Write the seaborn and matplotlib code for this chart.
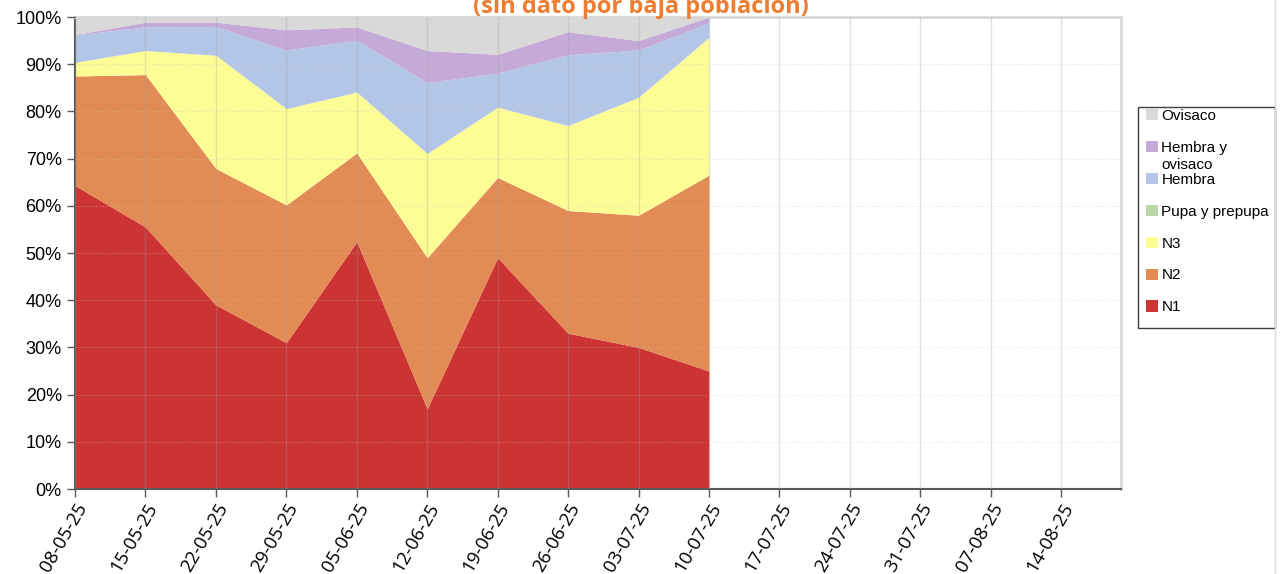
import matplotlib
matplotlib.use("Agg")
import matplotlib.pyplot as plt
import seaborn as sns
from matplotlib.patches import Patch, Rectangle
from matplotlib.lines import Line2D
from matplotlib.ticker import FuncFormatter

# fechas de muestreo (eje x) y porcentajes por estadio
fechas = ["08-05-25", "15-05-25", "22-05-25", "29-05-25", "05-06-25", "12-06-25",
          "19-06-25", "26-06-25", "03-07-25", "10-07-25", "17-07-25", "24-07-25",
          "31-07-25", "07-08-25", "14-08-25"]
n1 = [64.3, 55.5, 39.0, 31.0, 52.4, 17.0, 49.0, 33.0, 30.0, 25.0]
n2 = [23.2, 32.3, 28.9, 29.2, 18.8, 32.0, 17.0, 26.0, 28.0, 41.5]
n3 = [2.9, 5.1, 24.0, 20.4, 12.9, 22.1, 14.9, 18.0, 25.0, 29.2]
pupa = [0, 0, 0, 0, 0, 0, 0, 0, 0, 0]
hembra = [5.8, 5.0, 6.1, 12.4, 11.0, 15.0, 7.2, 15.0, 10.0, 3.1]
hembra_ovisaco = [0.1, 1.0, 0.9, 4.3, 2.8, 6.8, 4.0, 4.9, 2.0, 1.2]
ovisaco = [3.7, 1.1, 1.1, 2.7, 2.1, 7.1, 7.9, 3.1, 5.0, 0.0]

series = [n1, n2, n3, pupa, hembra, hembra_ovisaco, ovisaco]
nombres = ["N1", "N2", "N3", "Pupa y prepupa", "Hembra", "Hembra y", "Ovisaco"]
colores = ["#CC3333", "#E38B54", "#FDFD96", "#B8D8A8", "#B3C6E7", "#C5AAD8", "#D9D9D9"]

sns.set_style("white")
plt.rcParams["font.family"] = ["Liberation Sans", "DejaVu Sans"]

fig = plt.figure(figsize=(12.81, 5.74), dpi=100)
ax = fig.add_axes([75 / 1281, 85 / 574, (1121 - 75) / 1281, (489 - 17) / 574])

x = list(range(len(n1)))
ax.stackplot(x, *series, colors=colores, linewidth=0)

ax.set_xlim(0, 14.85)
ax.set_ylim(0, 100)
ax.set_xticks(range(len(fechas)))
ax.set_xticklabels(fechas, rotation=60, ha="right", rotation_mode="anchor",
                   fontsize=13.5, family="Open Sans", color="black")
ax.set_yticks(range(0, 101, 10))
ax.yaxis.set_major_formatter(FuncFormatter(lambda v, p: f"{int(v)}%"))
ax.tick_params(axis="y", labelsize=13, labelcolor="black", length=6, width=1,
               color="#595959", direction="out", left=True)
ax.tick_params(axis="x", length=6, width=1, color="#595959", direction="out", bottom=True, pad=2)

# rejilla por encima de las áreas
ax.set_axisbelow(False)
ax.grid(axis="x", color="#A0A0A0", alpha=0.3, linewidth=1)
ax.grid(axis="y", color="#C8C8C8", alpha=0.4, linewidth=0.6, linestyle=(0, (2, 2)))

for lado in ["left", "bottom"]:
    ax.spines[lado].set_color("#595959")
    ax.spines[lado].set_linewidth(1.5)
for lado in ["top", "right"]:
    ax.spines[lado].set_color("#D9D9D9")
    ax.spines[lado].set_linewidth(2)

# leyenda (orden invertido, como en el original)
handles = [Patch(facecolor=c, edgecolor="none") for c in colores][::-1]
leg = fig.legend(handles, nombres[::-1], loc="upper left",
                 bbox_to_anchor=(1143 / 1281, 1 - 106 / 574),
                 frameon=False, fontsize=11, labelcolor="black",
                 handlelength=0.75, handleheight=0.75, handletextpad=0.25,
                 labelspacing=1.17, borderpad=0.2, borderaxespad=0)
fig.add_artist(Rectangle((1138 / 1281, 1 - 328 / 574), 137 / 1281, 221 / 574,
                         transform=fig.transFigure, fill=False,
                         edgecolor="#404040", linewidth=1))

# segunda línea de "Hembra y ovisaco"
fig.canvas.draw()
t = leg.get_texts()[1]
bb = t.get_window_extent().transformed(fig.transFigure.inverted())
fig.text(bb.x0, bb.y0 - 17 / 574 + bb.height / 2, "ovisaco", fontsize=11,
         color="black", va="center", ha="left")

fig.add_artist(Line2D([1275 / 1281, 1275 / 1281], [0, 1], transform=fig.transFigure,
                      color="#D9D9D9", linewidth=1))

fig.text(0.5, 0.988, "(sin dato por baja población)", ha="center", va="center",
         fontsize=17, fontweight="bold", color="#ED7D31", family="Open Sans")

fig.savefig("out.png", dpi=100)
